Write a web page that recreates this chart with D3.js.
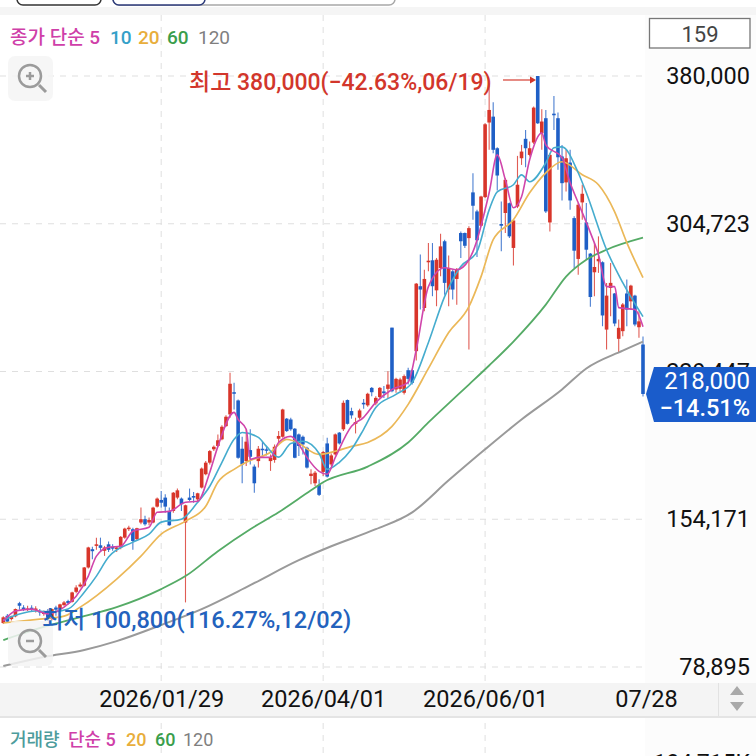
<!DOCTYPE html>
<html><head><meta charset="utf-8">
<style>
html,body{margin:0;padding:0;background:#fff;overflow:hidden}
svg{display:block}
text{font-family:Roboto,"Noto Sans CJK KR",sans-serif}
.tick text{font-family:Roboto,"Noto Sans CJK KR",sans-serif}
</style>
<script src="https://d3js.org/d3.v7.min.js"></script>
</head><body><svg id="c" width="756" height="756"></svg>
<script>
// Prices in thousand won, one candle per trading day
const opens=[101.3,105.0,103.3,104.7,111.4,109.2,108.1,109.1,108.1,107.5,
105.9,107.5,103.3,109.2,108.4,110.4,112.5,112.1,117.2,119.9,
120.3,129.6,138.9,140.6,140.9,138.1,141.4,140.1,138.9,139.8,
144.8,149.1,149.1,144.0,152.5,154.2,152.5,152.5,160.6,164.0,
165.2,158.4,158.4,165.2,164.7,152.5,165.2,166.0,164.3,170.3,
177.1,183.0,189.8,191.5,194.9,201.6,207.6,218.9,214.7,190.1,
183.8,189.4,181.0,183.8,190.1,189.8,183.8,184.4,195.2,196.2,
205.4,205.0,200.3,197.4,196.2,190.6,176.2,172.5,171.6,178.3,
192.8,182.1,187.2,198.3,200.0,214.9,209.3,202.8,205.9,213.5,
212.2,221.1,213.2,216.4,219.3,220.6,251.8,220.3,220.6,218.6,
230.1,230.1,239.8,272.9,261.8,285.1,286.1,270.8,282.2,295.8,
271.2,280.5,276.6,300.0,300.0,297.4,320.7,311.0,303.7,318.3,
356.3,359.3,343.2,304.6,310.2,315.2,292.4,313.5,338.1,348.0,
339.8,346.1,380.0,350.8,358.5,305.4,360.8,358.5,339.0,325.8,
335.9,307.6,286.8,315.6,305.4,289.5,280.0,285.6,285.1,250.8,
272.0,269.2,246.1,250.0,269.2,265.2,268.1,252.0,243.2];
const closes=[104.2,102.0,104.7,108.4,110.1,108.4,108.7,108.2,108.7,106.7,
107.0,103.3,108.4,108.1,110.8,111.8,111.4,116.9,119.4,120.9,
129.6,139.8,137.9,141.4,139.6,139.8,138.6,139.2,139.8,145.2,
149.4,149.9,143.1,149.6,154.2,151.6,153.8,160.1,164.7,162.6,
160.6,151.1,167.7,168.9,161.8,161.3,164.0,165.2,167.4,180.0,
183.0,188.9,191.1,194.4,201.3,206.4,223.2,218.1,185.5,182.1,
193.7,186.0,172.5,190.1,189.4,189.1,185.5,191.1,196.6,210.1,
199.1,200.0,185.5,191.5,192.3,180.5,177.4,177.9,166.6,188.4,
175.9,186.7,197.4,192.8,213.5,202.8,207.1,203.7,209.6,212.7,
218.1,218.9,216.0,221.1,218.4,222.8,219.4,225.7,225.4,227.1,
225.7,223.7,274.2,271.2,276.6,285.9,272.9,286.4,293.2,274.6,
282.2,271.2,281.3,295.8,293.5,302.5,313.9,296.3,318.6,355.4,
362.7,342.4,329.3,303.7,327.1,298.3,306.4,324.6,341.5,343.2,
343.2,363.9,355.9,356.8,311.0,339.8,360.0,338.6,325.4,338.1,
316.6,291.0,314.4,320.0,291.5,267.4,282.7,286.8,258.0,268.1,
274.6,253.9,251.7,263.6,261.0,273.2,253.4,255.0,218.0];
const highs=[104.7,105.9,105.0,108.7,112.1,110.4,110.1,110.4,109.8,108.4,
107.7,108.4,108.7,110.1,111.1,112.5,113.1,117.2,120.6,122.0,
129.9,140.1,140.1,144.8,144.8,140.6,142.8,141.4,140.6,145.7,
149.8,150.8,149.9,149.9,160.1,155.9,155.0,160.6,165.2,168.6,
166.9,160.1,168.1,169.8,165.2,161.6,169.8,168.1,167.7,180.5,
183.8,189.4,191.8,197.4,202.0,207.1,228.8,223.7,215.2,196.2,
200.0,200.0,182.1,191.5,194.0,191.5,187.2,192.3,199.1,210.5,
205.7,205.9,200.6,197.9,196.9,191.1,179.6,178.8,174.5,188.9,
195.7,187.7,197.9,198.6,214.7,215.2,211.0,205.9,210.5,215.5,
218.6,221.6,216.9,221.6,222.0,229.6,251.8,226.2,226.2,227.9,
231.3,230.8,274.6,289.0,281.3,294.9,294.9,287.3,299.6,296.6,
288.6,281.3,282.2,300.8,300.3,303.4,330.5,311.9,319.0,355.9,
376.3,366.6,343.7,316.1,328.0,315.6,306.8,339.3,344.9,352.5,
346.6,364.4,380.0,363.0,362.7,340.7,369.8,361.4,344.9,342.4,
342.4,308.5,315.3,324.6,315.3,289.8,294.9,298.3,285.6,274.6,
284.7,269.5,255.9,264.4,276.3,273.7,268.6,260.2,247.3];
const lows=[100.8,101.6,102.6,104.3,108.1,107.4,107.4,107.0,106.7,105.0,
105.0,102.6,102.6,105.0,108.1,110.1,110.8,111.8,116.5,119.4,
119.9,129.1,133.8,138.6,138.1,135.5,137.5,138.1,137.5,138.9,
144.3,148.2,138.6,143.1,151.6,150.8,151.1,152.1,160.1,160.1,
157.5,150.8,157.5,164.3,158.4,111.8,163.5,162.6,162.6,169.8,
176.6,182.1,188.9,191.1,194.4,201.3,205.9,210.1,185.0,172.5,
181.3,182.1,167.7,180.5,185.5,186.7,178.8,183.0,193.2,195.7,
198.6,199.3,185.2,186.4,187.2,180.0,172.0,171.1,166.0,176.2,
175.4,181.3,186.7,192.3,199.1,202.5,205.4,197.9,205.0,210.5,
211.5,216.9,212.2,216.0,216.0,216.0,218.9,218.6,219.4,217.7,
222.8,222.8,235.0,261.0,260.2,280.5,267.8,262.7,278.0,268.6,
262.7,266.1,263.5,287.3,292.4,240.7,306.8,287.8,303.4,317.8,
342.4,340.7,321.7,290.7,300.0,297.4,283.4,312.7,334.7,333.5,
339.0,345.4,355.6,342.4,310.2,300.8,352.5,332.2,316.6,321.2,
311.9,282.2,278.8,306.8,286.4,262.4,267.8,279.7,252.5,240.6,
257.6,252.5,239.0,247.4,252.5,261.0,252.5,246.6,216.7];

// Moving averages as [candle index, value] read at the visible bends
const ma5=[[0,102.3],[3,107.4],[7,108.4],[11,105.9],[15,109.4],[18,115.0],[21,125.2],[23,135.4],[26,139.9],[29,140.4],[32,148.1],[36,150.1],[38,157.7],[41,158.2],[45,162.8],[48,163.3],[51,178.1],[53,191.3],[57,208.6],[58,205.0],[60,200.0],[61,184.7],[63,185.7],[66,185.7],[68,193.3],[71,196.4],[73,192.3],[75,185.7],[78,178.6],[80,177.1],[82,185.7],[86,201.5],[89,206.1],[92,213.7],[96,220.3],[100,223.9],[102,240.6],[105,272.7],[109,282.3],[112,281.3],[115,286.4],[116,290.5],[120,320.5],[122,339.8],[124,327.1],[126,312.9],[128,318.5],[130,337.3],[133,351.0],[134,344.9],[138,338.3],[140,325.6],[142,315.4],[145,300.2],[147,289.0],[149,272.7],[151,272.7],[152,262.0],[156,261.0],[158,252.3]];
const ma10=[[0,102.8],[4,105.9],[8,107.4],[12,106.9],[16,108.4],[20,117.0],[23,125.2],[26,134.9],[32,142.5],[36,146.6],[39,152.7],[44,154.2],[48,162.8],[51,171.0],[54,183.2],[57,194.9],[59,198.4],[63,195.9],[65,191.3],[68,185.8],[71,192.8],[74,193.9],[78,187.7],[80,179.6],[83,183.2],[86,189.8],[89,200.0],[92,211.1],[97,217.8],[101,223.9],[105,244.2],[109,267.6],[113,282.9],[117,290.5],[120,311.8],[122,321.0],[126,324.6],[128,329.6],[130,326.1],[134,335.8],[136,343.4],[138,343.9],[142,330.7],[144,320.5],[149,291.5],[153,274.7],[158,257.4]];
const ma20=[[0,101.3],[9,103.3],[15,104.8],[19,109.4],[28,123.7],[34,135.4],[39,146.6],[45,153.2],[50,160.8],[53,173.0],[57,179.6],[60,183.2],[66,188.3],[70,194.9],[72,193.9],[78,187.2],[82,188.8],[86,191.3],[90,193.3],[96,201.5],[100,212.7],[105,231.0],[110,249.3],[115,262.5],[118,277.8],[121,296.6],[126,306.8],[130,320.5],[134,330.7],[138,336.3],[143,329.7],[147,324.6],[151,310.8],[154,295.1],[158,277.3]];
const ma60=[[0,92.6],[10,99.3],[19,104.3],[28,109.4],[39,118.6],[45,125.2],[53,137.9],[61,149.1],[68,157.7],[76,168.9],[79,173.0],[90,181.0],[100,193.3],[105,203.5],[110,213.2],[115,222.8],[120,232.5],[126,244.7],[134,263.5],[139,277.8],[144,286.4],[149,291.5],[158,297.6]];
const ma120=[[0,79.4],[10,84.0],[20,87.6],[28,92.1],[39,100.3],[49,108.4],[61,120.6],[73,133.3],[81,140.4],[92,149.1],[101,157.7],[110,174.0],[119,189.8],[128,205.0],[138,220.3],[144,231.0],[153,240.1],[158,244.7]];

const yTicks=[380000,304723,229447,154171,78895];
const xTickIdx=[39,79,119,158];
const xTickLabels=["2026/01/29","2026/04/01","2026/06/01","07/28"];
const priceLegend=[["종가 단순 5","#cf3fa9"],["10","#34a0c8"],["20","#e8ae3c"],["60","#3a9e4c"],["120","#7f7f7f"]];
const volLegend=[["거래량","#4d9c9c"],["단순 5","#cf3fa9"],["20","#e8ae3c"],["60","#3a9e4c"],["120","#7f7f7f"]];

const RED="#d8352a",BLUE="#1f5fc6";
const svg=d3.select("#c");
const x=d3.scaleLinear().domain([0,158]).range([3.3,643]);
const y=d3.scaleLinear().domain([380000,78895]).range([76,667]);
const py=v=>y(v*1000);

// chrome
svg.append("rect").attr("x",645).attr("y",15).attr("width",111).attr("height",741).attr("fill","#fcfcfc");
svg.append("rect").attr("x",0).attr("y",7).attr("width",756).attr("height",8).attr("fill","#f5f5f5");
const tab=(a,b,c,w)=>svg.append("rect").attr("x",a).attr("y",-20).attr("width",b).attr("height",25).attr("rx",6).attr("fill","#fff").attr("stroke",c).attr("stroke-width",w);
tab(113,282,"#a8a8a8",1.5);
tab(17,84,"#333",1.5);
tab(113,92,"#2c3a7a",1.5);

// grid
const grid=svg.append("g").attr("stroke","#dfdfdf").attr("stroke-width",1).attr("stroke-dasharray","6 6");
yTicks.forEach(t=>grid.append("line").attr("x1",0).attr("x2",645).attr("y1",y(t)).attr("y2",y(t)));
xTickIdx.slice(0,3).forEach(i=>grid.append("line").attr("x1",x(i)).attr("x2",x(i)).attr("y1",15).attr("y2",756));

// x band
svg.append("rect").attr("x",0).attr("y",683).attr("width",756).attr("height",33).attr("fill","#f4f4f4");
svg.append("rect").attr("x",0).attr("y",716).attr("width",756).attr("height",2).attr("fill","#e4e4e4");
svg.append("rect").attr("x",718).attr("y",683).attr("width",1).attr("height",33).attr("fill","#e2e2e2");
svg.append("path").attr("d","M737 686l7 9h-14zM737 711l7-9h-14z").attr("fill","#a9a9a9");

// y labels
const gy=svg.append("g").attr("transform","translate(750,0)").call(d3.axisLeft(y).tickValues(yTicks).tickSize(0).tickPadding(0).tickFormat(d3.format(",")));
gy.select(".domain").remove();
gy.selectAll("text").attr("font-size",23.5).attr("fill","#111");

// x labels
const gx=svg.append("g").attr("transform","translate(0,699)").call(d3.axisBottom(x).tickValues(xTickIdx).tickSize(0).tickPadding(0).tickFormat((d,i)=>xTickLabels[i]));
gx.select(".domain").remove();
gx.selectAll("text").attr("font-size",23.5).attr("fill","#111").attr("dy","0.35em").attr("y",0);
gx.selectAll(".tick").filter((d,i)=>i===3).select("text").attr("dx",3);

// candles
const idx=d3.range(opens.length);
const col=i=>closes[i]>=opens[i]?RED:BLUE;
svg.append("g").selectAll("line").data(idx).join("line")
 .attr("x1",x).attr("x2",x).attr("y1",i=>py(highs[i])).attr("y2",i=>py(lows[i]))
 .attr("stroke",col).attr("stroke-width",1.1).attr("stroke-opacity",.8);
svg.append("g").selectAll("rect").data(idx).join("rect")
 .attr("x",i=>x(i)-1.8).attr("width",3.6)
 .attr("y",i=>py(Math.max(opens[i],closes[i])))
 .attr("height",i=>Math.max(1.5,Math.abs(py(opens[i])-py(closes[i]))))
 .attr("fill",col);

// moving averages
const line=d3.line().x(d=>x(d[0])).y(d=>py(d[1])).curve(d3.curveMonotoneX);
[[ma120,"#9a9a9a",2],[ma60,"#55ab66",1.8],[ma20,"#ebb858",1.7],[ma10,"#45acce",1.6],[ma5,"#d045ab",1.6]].forEach(([d,c,w])=>
 svg.append("path").attr("d",line(d)).attr("fill","none").attr("stroke",c).attr("stroke-width",w));

// legends
const legend=(items,xs,yy,fs)=>items.forEach((it,i)=>svg.append("text").attr("x",xs[i]).attr("y",yy).attr("dy","0.35em").attr("font-size",fs).attr("font-weight",i===items.length-1?400:500).attr("fill",it[1]).text(it[0]));
legend(priceLegend,[10,110,138,167,198],37,19);
legend(volLegend,[10,68,126,155,183],740,18);

// zoom buttons
function mag(cx,cy,plus){
 const g=svg.append("g");
 g.append("rect").attr("x",cx-22).attr("y",cy-21).attr("width",45).attr("height",45).attr("rx",7).attr("fill","#f5f5f5").attr("fill-opacity",.85);
 g.append("circle").attr("cx",cx).attr("cy",cy-1).attr("r",11).attr("fill","none").attr("stroke","#9b9b9b").attr("stroke-width",2.5);
 g.append("line").attr("x1",cx+9).attr("y1",cy+8).attr("x2",cx+16).attr("y2",cy+15).attr("stroke","#9b9b9b").attr("stroke-width",3);
 g.append("line").attr("x1",cx-4).attr("x2",cx+4).attr("y1",cy-1).attr("y2",cy-1).attr("stroke","#9b9b9b").attr("stroke-width",2.5);
 if(plus) g.append("line").attr("x1",cx).attr("x2",cx).attr("y1",cy-5).attr("y2",cy+3).attr("stroke","#9b9b9b").attr("stroke-width",2.5);
}
mag(30,77,true);
mag(30,642,false);

// annotations
svg.append("text").attr("x",189).attr("y",82).attr("dy","0.35em").attr("font-size",23).attr("font-weight",500).attr("fill","#d2362b").text("최고 380,000(−42.63%,06/19)");
const ax=svg.append("g").attr("stroke","#db5a50").attr("fill","#d2362b");
ax.append("line").attr("x1",503).attr("x2",530).attr("y1",y(380000)+4).attr("y2",y(380000)+4).attr("stroke-width",1.4);
ax.append("path").attr("d",`M536 ${y(380000)+4}l-6 -3.5v7z`).attr("stroke","none");
svg.append("text").attr("x",42).attr("y",620).attr("dy","0.35em").attr("font-size",23.5).attr("font-weight",500).attr("fill","#2362bd").text("최저 100,800(116.27%,12/02)");

// current price badge
const by=y(218000);
svg.append("path").attr("d",`M654 367H756V422H654L646 ${by}Z`).attr("fill","#1a5ccb");
svg.append("text").attr("x",750).attr("y",381).attr("dy","0.35em").attr("text-anchor","end").attr("font-size",24).attr("fill","#fff").text("218,000");
svg.append("text").attr("x",750).attr("y",408).attr("dy","0.35em").attr("text-anchor","end").attr("font-size",23.5).attr("font-weight",500).attr("fill","#fff").text("−14.51%");

// top count box
svg.append("rect").attr("x",649.5).attr("y",18.5).attr("width",100.5).attr("height",29.5).attr("fill","#fff").attr("stroke","#777").attr("stroke-width",1.3);
svg.append("text").attr("x",700).attr("y",34).attr("dy","0.35em").attr("text-anchor","middle").attr("font-size",22).attr("fill","#444").text("159");

// volume axis label, cut by the window
svg.append("text").attr("x",750).attr("y",771).attr("text-anchor","end").attr("font-size",23).attr("fill","#111").text("134,715K");
</script></body></html>
